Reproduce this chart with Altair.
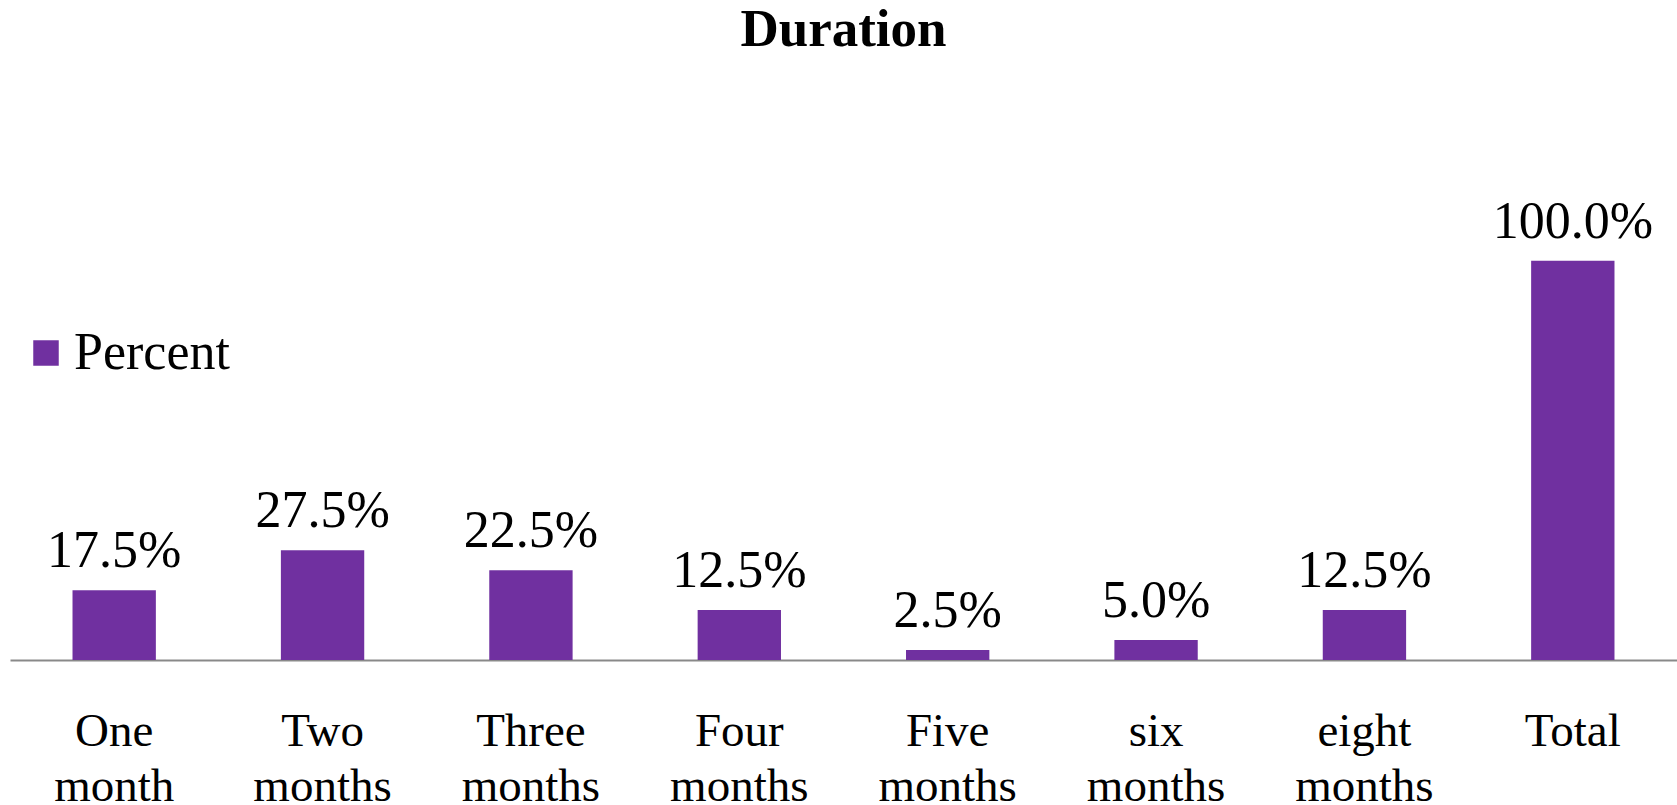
import altair as alt
import pandas as pd

# Survey result: share of respondents by duration
categories = ["One month", "Two months", "Three months", "Four months",
              "Five months", "six months", "eight months", "Total"]
percent = [17.5, 27.5, 22.5, 12.5, 2.5, 5.0, 12.5, 100.0]
series = ["Percent"] * len(categories)

df = pd.DataFrame({"category": categories, "percent": percent, "series": series})

FONT = "Liberation Serif"
PURPLE = "#7030A0"

x_enc = alt.X(
    "category:N",
    sort=categories,
    scale=alt.Scale(paddingInner=0.6, paddingOuter=0.3),
    axis=alt.Axis(
        title=None,
        labelAngle=0,
        labelExpr="split(datum.label, ' ')",
        labelFont=FONT,
        labelFontSize=47,
        labelColor="black",
        labelLineHeight=55,
        labelPadding=48,
        ticks=False,
        domainColor="#898989",
        domainWidth=2,
        grid=False,
    ),
)
y_enc = alt.Y("percent:Q", scale=alt.Scale(domain=[0, 120]), axis=None)

base = alt.Chart(df).encode(x=x_enc, y=y_enc)

bars = base.mark_bar(color=PURPLE).encode(
    color=alt.Color(
        "series:N",
        scale=alt.Scale(range=[PURPLE]),
        legend=alt.Legend(
            title=None,
            orient="none",
            legendX=10,
            legendY=146,
            padding=0,
            symbolType="square",
            symbolSize=650,
            symbolStrokeWidth=0,
            symbolOpacity=1,
            labelFont=FONT,
            labelFontSize=52,
            labelColor="black",
            labelOffset=2,
        ),
    )
)

labels = base.transform_calculate(
    label="format(datum.percent, '.1f') + '%'"
).mark_text(
    font=FONT, fontSize=52, color="black", baseline="alphabetic", dy=-23
).encode(text="label:N")

chart = (
    alt.layer(bars, labels)
    .properties(
        width=1667,
        height=479,
        background="white",
        title=alt.TitleParams(
            "Duration",
            font=FONT,
            fontSize=53,
            fontWeight="bold",
            color="black",
            anchor="middle",
            offset=124,
        ),
        autosize=alt.AutoSizeParams(type="none"),
        padding={"left": 10, "top": 181, "right": 0, "bottom": 145},
    )
    .configure_view(stroke="transparent")
)

chart.save("out.html", embed_options={"renderer": "svg", "actions": False})
